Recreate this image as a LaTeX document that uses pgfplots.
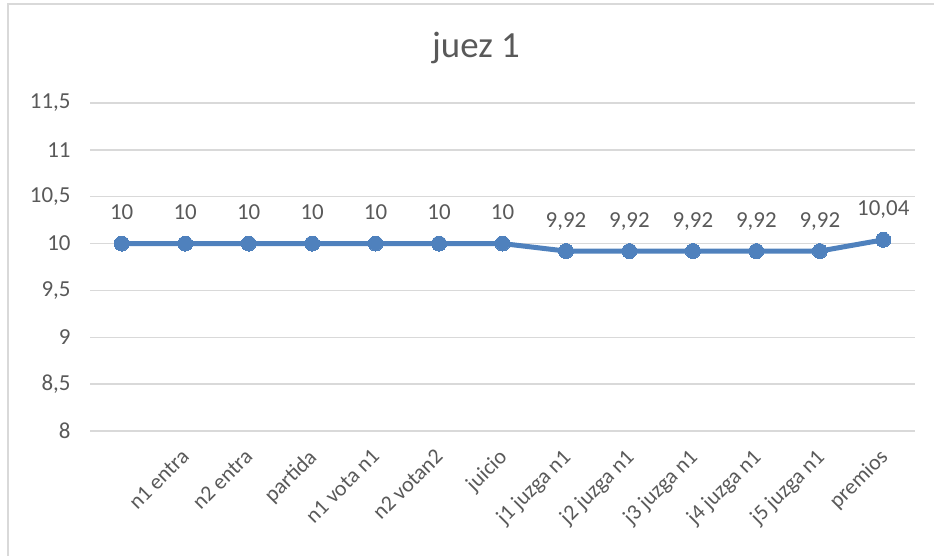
\documentclass[border=0pt]{standalone}
\usepackage{pgfplots}
\pgfplotsset{compat=1.18}
\usepackage{fontspec}
\setmainfont{Carlito}
\definecolor{lineblue}{RGB}{79,129,189}
\definecolor{gridgray}{RGB}{217,217,217}
\definecolor{txtgray}{RGB}{89,89,89}
\begin{document}
\begin{tikzpicture}
\useasboundingbox (0bp,0bp) rectangle (934bp,556bp);
\draw[gridgray, line width=1.5bp] (8bp,0bp) -- (8bp,552bp) -- (934bp,552bp);
\node[font=\fontsize{37}{42}\selectfont, text=txtgray] at (476bp,508bp) {juez 1};
\begin{axis}[at={(90bp,125bp)}, anchor=south west, scale only axis,
  width=825bp, height=328bp,
  xmin=-0.5, xmax=12.5, ymin=8, ymax=11.5,
  ytick={8,8.5,9,9.5,10,10.5,11,11.5},
  xtick={0,1,2,3,4,5,6,7,8,9,10,11,12},
  xticklabels={,n1 entra,n2 entra,partida,n1 vota n1,n2 votan2,juicio,j1 juzga n1,j2 juzga n1,j3 juzga n1,j4 juzga n1,j5 juzga n1,premios},
  axis line style={draw=none},
  major tick length=0pt,
  ymajorgrids, grid style={gridgray, line width=1.3bp},
  clip=false,
  /pgf/number format/.cd, use comma, assume math mode=true,
  /pgfplots/.cd,
  yticklabel style={font=\fontsize{23}{26}\selectfont, text=txtgray, anchor=east, xshift=-16bp},
  xticklabel style={font=\fontsize{22}{26}\selectfont, text=txtgray, xshift=-5bp, yshift=-12bp, rotate=45, anchor=north east},
  nodes near coords,
  every node near coord/.append style={font=\fontsize{23}{26}\selectfont, text=txtgray, anchor=base, yshift=24bp},
]
\addplot[lineblue, line width=5bp, mark=*, mark size=7.5bp, mark options={fill=lineblue, draw=lineblue, line width=0pt}]
coordinates {(0,10) (1,10) (2,10) (3,10) (4,10) (5,10) (6,10) (7,9.92) (8,9.92) (9,9.92) (10,9.92) (11,9.92) (12,10.04)};
\end{axis}
\end{tikzpicture}
\end{document}
